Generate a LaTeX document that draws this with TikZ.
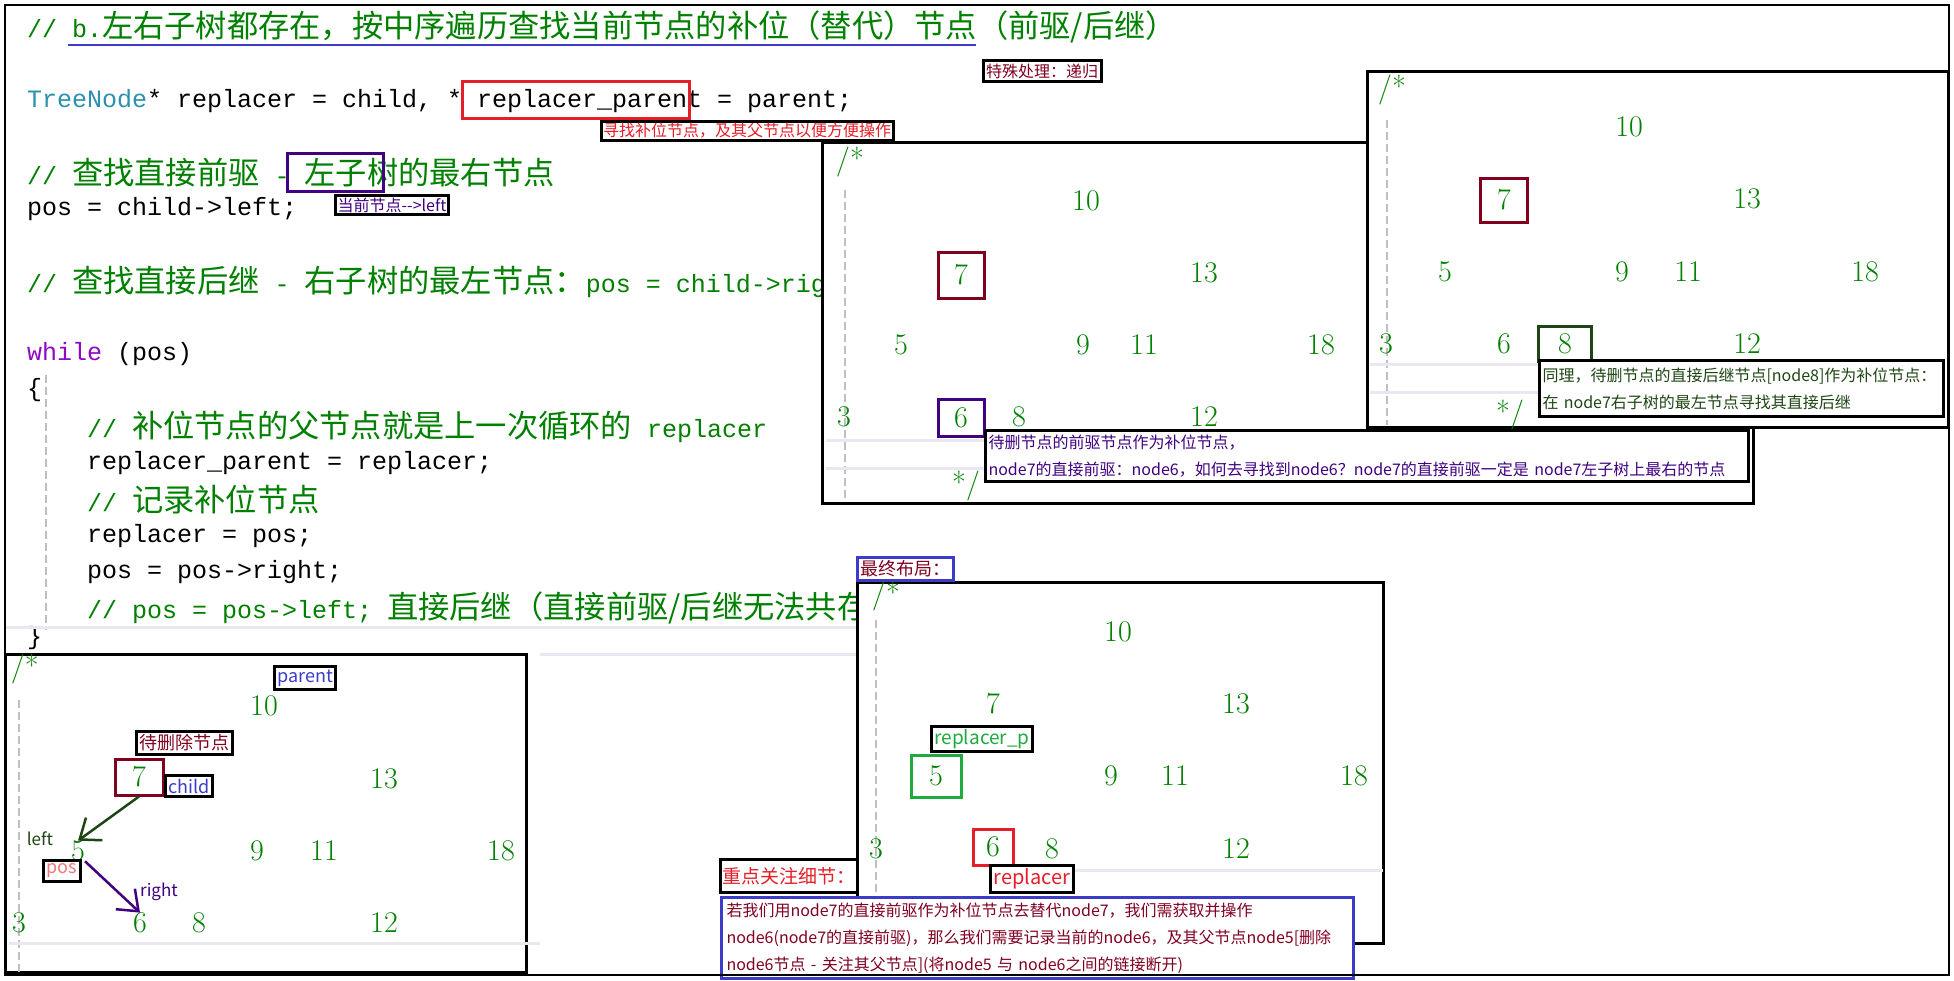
\documentclass[tikz,border=0pt]{standalone}
\usepackage{fontspec}
\usetikzlibrary{arrows.meta}
\newfontfamily\cjkf{Noto Sans CJK SC}
\newfontfamily\cjkc{Noto Sans CJK SC}[Scale=1.25]
\newfontfamily\codef{Liberation Mono}
\newcommand\Cc[1]{{\cjkc #1}}
\definecolor{cgreen}{RGB}{0,128,0}
\definecolor{tgreen}{RGB}{0,128,0}
\definecolor{cteal}{RGB}{43,145,175}
\definecolor{cpurp}{RGB}{143,8,196}
\definecolor{dred}{RGB}{128,0,32}
\definecolor{dpurp}{RGB}{64,0,128}
\definecolor{dgreen}{RGB}{30,70,20}
\definecolor{bgreen}{RGB}{30,170,60}
\definecolor{bred}{RGB}{230,30,40}
\definecolor{bblue}{RGB}{60,60,200}
\definecolor{pinkt}{RGB}{240,120,120}
\definecolor{faint}{RGB}{232,232,240}
\tikzset{
  code/.style={anchor=west,inner sep=0,font=\codef\fontsize{25}{25}\selectfont},
  tn/.style={text=tgreen,inner sep=0,font=\fontsize{30}{30}\selectfont},
  tb/.style={tn,draw,line width=3pt,minimum width=46,minimum height=46},
  frame/.style={draw=black,line width=3pt,fill=white},
  note/.style={draw=black,line width=3pt,fill=white,inner sep=3pt,font=\cjkf\fontsize{16}{27}\selectfont,align=left},
  guide/.style={draw=gray!50,line width=1.5pt,dash pattern=on 8pt off 4pt},
  fl/.style={draw=faint,line width=3pt},
}
\begin{document}
\begin{tikzpicture}[x=1pt,y=-1pt]
\useasboundingbox (0,0) rectangle (1954,980);
\fill[white] (0,0) rectangle (1954,980);
% code
\node[code,text=cgreen] (l1) at (27,27) {// b.\Cc{左右子树都存在，按中序遍历查找当前节点的补位（替代）节点（前驱/后继）}};
\draw[bblue,line width=1.5pt] (68,45) -- (976,45);
\node[code] (l2) at (27,101) {\textcolor{cteal}{TreeNode}* replacer = child, * replacer\_parent = parent;};
\node[code,text=cgreen] (l3) at (27,173) {// \Cc{查找直接前驱} - \Cc{左子树的最右节点}};
\node[code] (l4) at (27,209) {pos = child-{}>left;};
\node[code,text=cgreen] (l5) at (27,282) {// \Cc{查找直接后继} - \Cc{右子树的最左节点：}pos = child-{}>right};
\node[code] (l6) at (27,354) {\textcolor{cpurp}{while} (pos)};
\node[code] (l7) at (27,390) {\{};
\node[code,text=cgreen] (l8) at (87,427) {// \Cc{补位节点的父节点就是上一次循环的} replacer};
\node[code] (l9) at (87,463) {replacer\_parent = replacer;};
\node[code,text=cgreen] (l10) at (87,500) {// \Cc{记录补位节点}};
\node[code] (l11) at (87,536) {replacer = pos;};
\node[code] (l12) at (87,572) {pos = pos-{}>right;};
\node[code,text=cgreen] (l13) at (87,608) {// pos = pos-{}>left; \Cc{直接后继（直接前驱/后继无法共存）}};
\node[code] (l14) at (27,638) {\}};
\draw[guide] (46,375) -- (46,630);
\draw[fl] (5,627) -- (860,627);
\draw[fl] (540,654) -- (860,654);
% code annotations
\node[draw=bred,line width=3pt,minimum width=227,minimum height=37,inner sep=0] (rp) at (575.5,99.5) {};
\node[draw=dpurp,line width=3pt,minimum width=96,minimum height=38,inner sep=0] (lz) at (335,172) {};
\node[note,text=dred] (n1) at (1042,71) {特殊处理：递归};
\node[note,text=bred,inner sep=2pt] (n2) at (747,131) {寻找补位节点，及其父节点以便方便操作};
\node[note,text=dpurp,inner sep=2pt] (n3) at (392,205) {当前节点-{}-{}>left};
% tree 1
\draw[frame] (822,142) rectangle (1753,503);
\draw[guide] (845,190) -- (845,500);
\draw[fl] (826,440) -- (1360,440);
\draw[fl] (826,468) -- (1000,468);
\node[tn] (a0) at (850,162) {/*};
\node[tn] (a10) at (1086,201) {10};
\node[tb,draw=dred] (a7) at (961,275) {7};
\node[tn] (a13) at (1204,273) {13};
\node[tn] (a5) at (901,345) {5};
\node[tn] (a9) at (1083,345) {9};
\node[tn] (a11) at (1144,345) {11};
\node[tn] (a18) at (1321,345) {18};
\node[tn] (a3) at (844,417) {3};
\node[tb,draw=dpurp,minimum height=37] (a6) at (961,418) {6};
\node[tn] (a8) at (1019,417) {8};
\node[tn] (a12) at (1204,417) {12};
\node[tn] (a1) at (966,486) {*/};
\node[note,text=dpurp,anchor=north west,text width=757,minimum height=51] (n4) at (984,429) {待删节点的前驱节点作为补位节点，\\node7的直接前驱：node6，如何去寻找到node6？node7的直接前驱一定是 node7左子树上最右的节点};
% tree 2
\draw[frame] (1367,71) rectangle (1948,427);
\draw[guide] (1387,120) -- (1387,425);
\draw[fl] (1370,364) -- (1540,364);
\draw[fl] (1370,392) -- (1540,392);
\node[tn] (b0) at (1392,90) {/*};
\node[tn] (b10) at (1629,127) {10};
\node[tb,draw=dred,minimum width=47,minimum height=44] (b7) at (1504,200) {7};
\node[tn] (b13) at (1747,199) {13};
\node[tn] (b5) at (1445,272) {5};
\node[tn] (b9) at (1622,272) {9};
\node[tn] (b11) at (1688,272) {11};
\node[tn] (b18) at (1865,272) {18};
\node[tn] (b3) at (1386,344) {3};
\node[tn] (b6) at (1504,344) {6};
\node[tb,draw=dgreen,minimum width=53,minimum height=35] (b8) at (1565,344) {8};
\node[tn] (b12) at (1747,344) {12};
\node[tn] (b1) at (1510,415) {*/};
\node[note,text=dgreen,anchor=north west,text width=398,minimum height=56] (n5) at (1538,359) {同理，待删节点的直接后继节点[node8]作为补位节点：\\在 node7右子树的最左节点寻找其直接后继};
% bottom-left tree
\draw[frame] (5,654) rectangle (526,972);
\draw[guide] (19,700) -- (19,972);
\draw[fl] (9,943) -- (540,943);
\node[tn] (c0) at (25,669) {/*};
\node[note,text=bblue,inner sep=3pt,font=\cjkf\fontsize{18}{20}\selectfont] (cp) at (305,678) {parent};
\node[tn] (c10) at (264,706) {10};
\node[note,text=dred,inner sep=3pt,font=\cjkf\fontsize{18}{20}\selectfont] (cd) at (184,743) {待删除节点};
\node[tb,draw=dred,minimum width=48,minimum height=36] (c7) at (139,777) {7};
\node[note,text=bblue,inner sep=3pt,font=\cjkf\fontsize{18}{20}\selectfont] (cc) at (189,786) {child};
\node[tn] (c13) at (384,779) {13};
\node[text=dgreen,font=\cjkf\fontsize{17}{17}\selectfont,inner sep=0] (cl) at (40,839) {left};
\node[tn] (c5) at (78,851) {5};
\node[note,text=pinkt,inner sep=3pt,font=\cjkf\fontsize{18}{20}\selectfont] (cpos) at (62,871) {pos};
\node[tn] (c9) at (257,851) {9};
\node[tn] (c11) at (324,851) {11};
\node[tn] (c18) at (501,851) {18};
\node[text=dpurp,font=\cjkf\fontsize{17}{17}\selectfont,inner sep=0] (cr) at (159,892) {right};
\node[tn] (c3) at (19,923) {3};
\node[tn] (c6) at (140,923) {6};
\node[tn] (c8) at (199,923) {8};
\node[tn] (c12) at (384,923) {12};
\draw[dgreen,line width=2.5pt,-{Straight Barb[length=18pt,width=28pt]}] (c7.south) -- (c5.north);
\draw[dpurp,line width=2.5pt,-{Straight Barb[length=18pt,width=28pt]}] (c5.south east) -- (c6.north);
% bottom-right tree
\draw[frame] (857,582) rectangle (1383,943);
\draw[guide] (876,620) -- (876,943);
\draw[fl] (1000,870) -- (1383,870);
\node[draw=bblue,line width=3pt,fill=white,inner sep=3pt,text=dred,font=\cjkf\fontsize{18}{20}\selectfont] (d0t) at (905,569) {最终布局：};
\node[tn] (d0) at (886,596) {/*};
\node[tn] (d10) at (1118,632) {10};
\node[tn] (d7) at (993,704) {7};
\node[tn] (d13) at (1236,704) {13};
\node[note,text=bgreen,inner sep=3pt,font=\cjkf\fontsize{19}{20}\selectfont] (drp) at (982,739) {replacer\_p};
\node[tb,draw=bgreen,minimum width=50,minimum height=42] (d5) at (936,776) {5};
\node[tn] (d9) at (1111,776) {9};
\node[tn] (d11) at (1175,776) {11};
\node[tn] (d18) at (1354,776) {18};
\node[tn] (d3) at (876,849) {3};
\node[tb,draw=bred,minimum width=40,minimum height=36] (d6) at (993,847) {6};
\node[tn] (d8) at (1052,849) {8};
\node[tn] (d12) at (1236,849) {12};
\node[note,text=bred,inner sep=3pt,font=\cjkf\fontsize{20}{22}\selectfont] (dr) at (1032,879) {replacer};
\node[note,text=bred,minimum width=137,minimum height=33,inner sep=2pt,font=\cjkf\fontsize{19}{20}\selectfont] (dk) at (789,876) {重点关注细节：};
\node[draw=bblue,line width=3pt,fill=white,anchor=north west,minimum height=80,inner sep=5pt,text=dred,font=\cjkf\fontsize{16}{27}\selectfont,align=left,text width=622] (dn) at (720,896) {若我们用node7的直接前驱作为补位节点去替代node7，我们需获取并操作\\node6(node7的直接前驱)，那么我们需要记录当前的node6，及其父节点node5[删除\\node6节点 - 关注其父节点](将node5 与 node6之间的链接断开)};
% outer frame
\draw[black,line width=2.5pt] (5,5) rectangle (1949,975);
\end{tikzpicture}
\end{document}
